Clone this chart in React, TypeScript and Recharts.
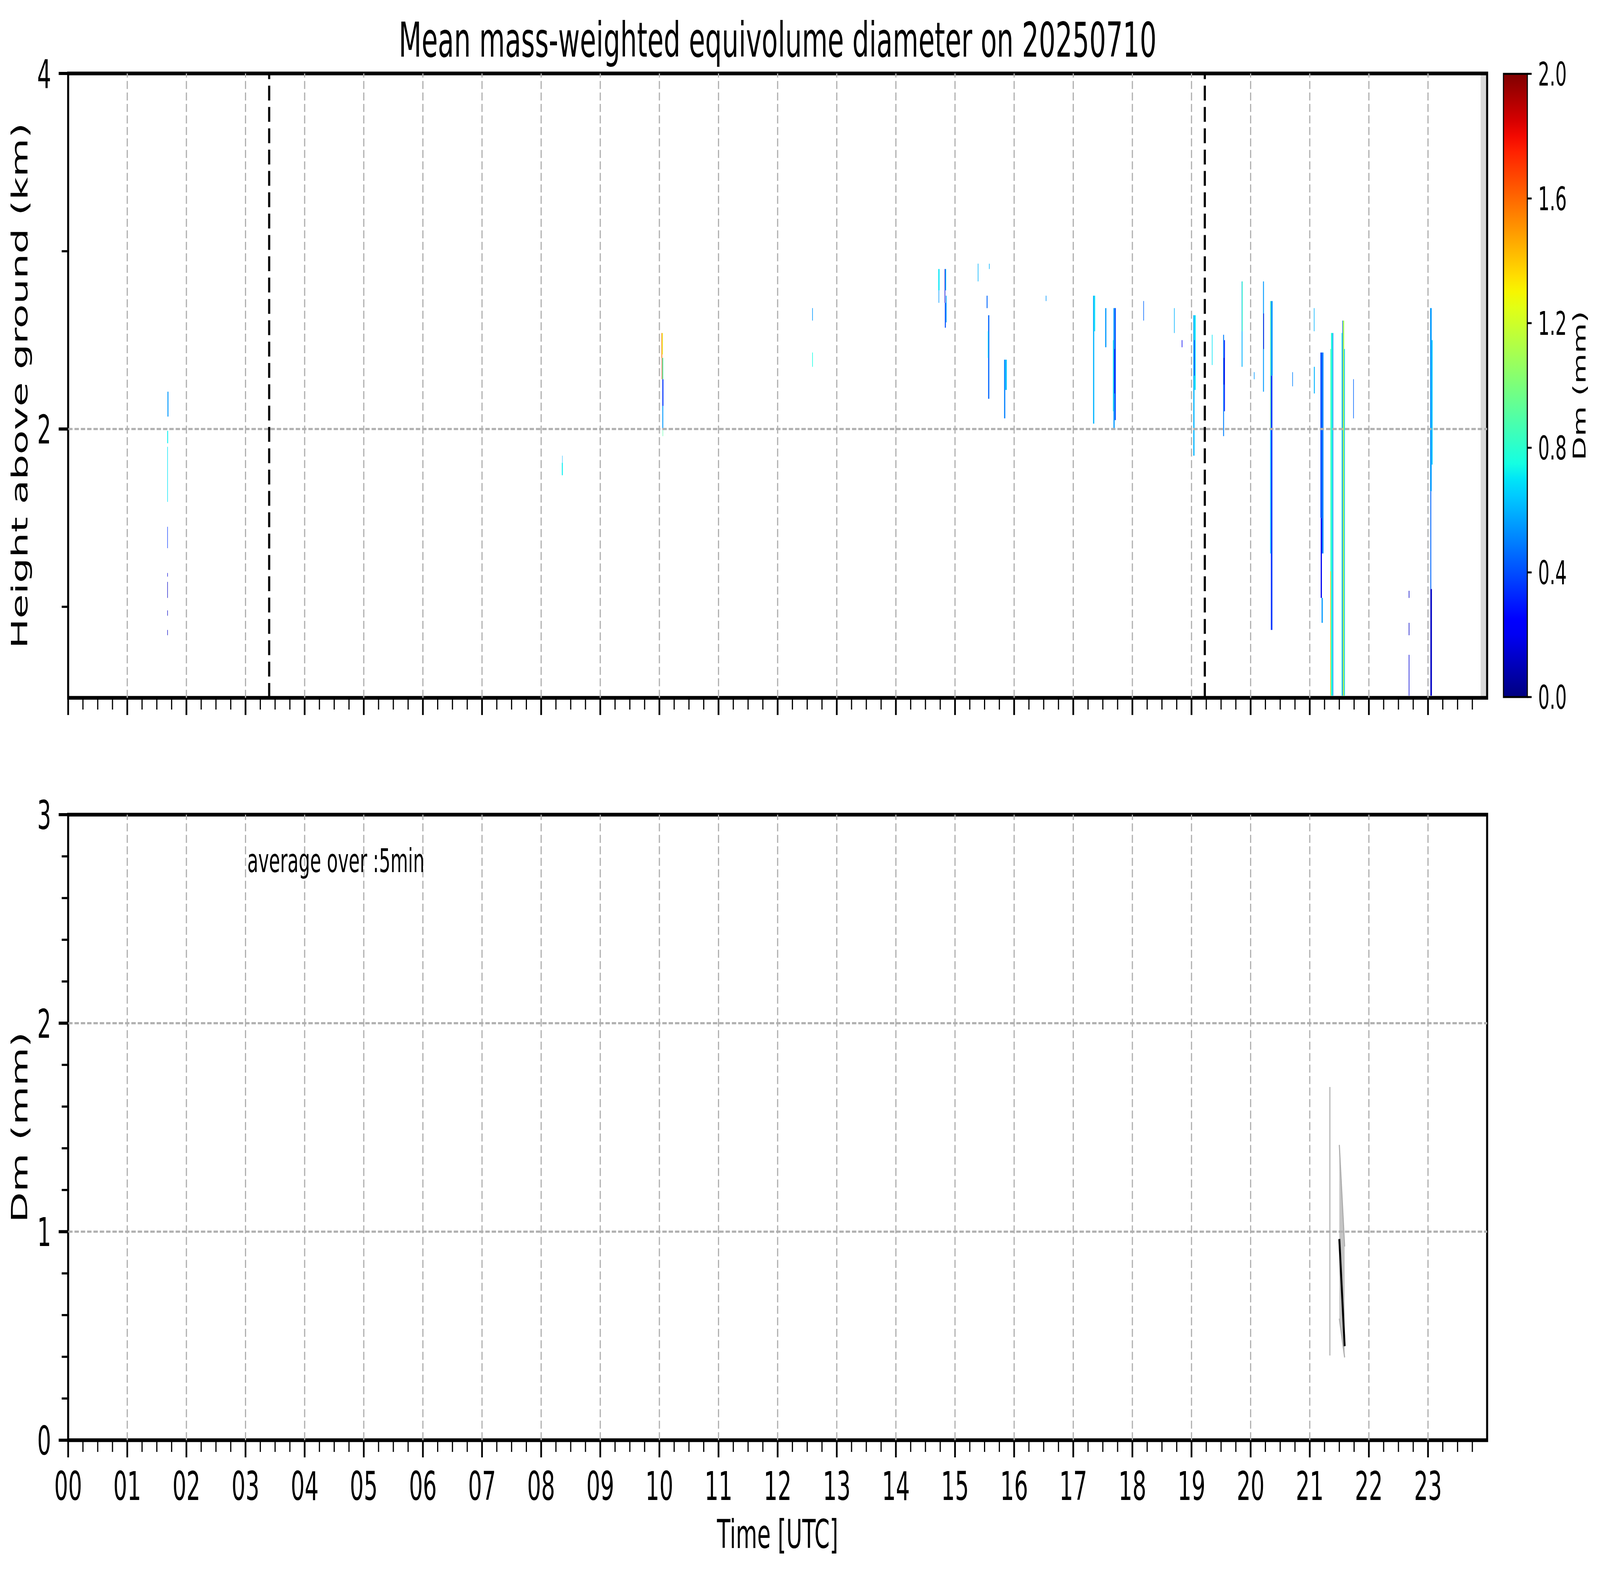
import React, { useLayoutEffect, useState } from 'react';
import { ComposedChart, XAxis, YAxis, ReferenceArea, ReferenceLine, Line, Area } from 'recharts';

const FONT = 'DejaVu Sans';
const FIG_W = 7442;
const FIG_H = 4031;

// ---------- axis ticks / labels ----------
const hourLabels = ['00','01','02','03','04','05','06','07','08','09','10','11','12','13','14','15','16','17','18','19','20','21','22','23'];
const hourGrid = [1,2,3,4,5,6,7,8,9,10,11,12,13,14,15,16,17,18,19,20,21,22,23];
const xTicks = Array.from({ length: 96 }, (_, i) => i / 4);
const topYTicks = [1, 2, 3, 4];
const topYMajor = [2, 4];
const topYGrid = [2];
const botYTicks = [0, 0.2, 0.4, 0.6, 0.8, 1, 1.2, 1.4, 1.6, 1.8, 2, 2.2, 2.4, 2.6, 2.8, 3];
const botYMajor = [0, 1, 2, 3];
const botYGrid = [1, 2];
const cbTicks = [0, 0.4, 0.8, 1.2, 1.6, 2.0];
const cbRange = [0, 2];

// ---------- data ----------
const sunLines = [3.40, 19.225];
const noDataStrip = [23.89, 24];
const heightRange = [0.488, 4];

// radar cells: [t0 (h UTC), t1 (h UTC), bottom height (km), top height (km), Dm (mm)]
const dmCells: [number, number, number, number, number][] = [
  [1.680, 1.696, 2.07, 2.21, 0.55],
  [1.676, 1.690, 1.92, 1.99, 0.72],
  [1.677, 1.686, 1.59, 1.90, 0.70],
  [1.677, 1.685, 1.33, 1.45, 0.35],
  [1.677, 1.685, 1.17, 1.19, 0.15],
  [1.677, 1.685, 1.05, 1.14, 0.12],
  [1.677, 1.685, 0.95, 0.98, 0.12],
  [1.677, 1.685, 0.84, 0.87, 0.12],
  [8.350, 8.366, 1.74, 1.81, 0.72],
  [8.356, 8.362, 1.81, 1.85, 0.60],
  [10.035, 10.048, 2.40, 2.54, 1.55],
  [10.048, 10.058, 2.42, 2.54, 1.25],
  [10.040, 10.050, 2.28, 2.40, 1.75],
  [10.048, 10.065, 2.28, 2.40, 0.90],
  [10.050, 10.068, 2.13, 2.28, 0.35],
  [10.050, 10.065, 2.00, 2.13, 0.55],
  [10.055, 10.062, 1.96, 2.00, 0.90],
  [12.585, 12.595, 2.61, 2.68, 0.55],
  [12.585, 12.595, 2.35, 2.43, 0.75],
  [14.718, 14.738, 2.78, 2.90, 0.70],
  [14.722, 14.732, 2.71, 2.78, 0.55],
  [14.825, 14.835, 2.71, 2.90, 0.15],
  [14.835, 14.850, 2.78, 2.90, 0.60],
  [14.828, 14.845, 2.57, 2.71, 0.40],
  [14.845, 14.858, 2.60, 2.75, 0.55],
  [15.385, 15.395, 2.83, 2.93, 0.60],
  [15.575, 15.585, 2.90, 2.93, 0.60],
  [15.535, 15.550, 2.68, 2.75, 0.45],
  [15.560, 15.580, 2.17, 2.64, 0.45],
  [15.555, 15.565, 2.40, 2.55, 0.70],
  [15.830, 15.850, 2.06, 2.39, 0.50],
  [15.850, 15.875, 2.22, 2.39, 0.62],
  [16.535, 16.545, 2.72, 2.75, 0.55],
  [17.335, 17.355, 2.03, 2.75, 0.60],
  [17.355, 17.370, 2.55, 2.75, 0.70],
  [17.540, 17.560, 2.46, 2.68, 0.55],
  [17.670, 17.680, 2.10, 2.50, 0.75],
  [17.680, 17.700, 2.00, 2.68, 0.55],
  [17.700, 17.720, 2.05, 2.68, 0.40],
  [17.695, 17.705, 2.20, 2.45, 0.20],
  [18.185, 18.195, 2.61, 2.72, 0.45],
  [18.705, 18.715, 2.54, 2.68, 0.60],
  [18.835, 18.845, 2.46, 2.50, 0.20],
  [19.030, 19.050, 1.85, 2.64, 0.60],
  [19.050, 19.070, 2.22, 2.64, 0.70],
  [19.045, 19.055, 2.30, 2.50, 0.30],
  [19.345, 19.355, 2.36, 2.53, 0.70],
  [19.535, 19.550, 1.96, 2.53, 0.50],
  [19.550, 19.565, 2.10, 2.50, 0.30],
  [19.545, 19.555, 2.25, 2.40, 0.15],
  [19.848, 19.862, 2.35, 2.83, 0.60],
  [19.855, 19.865, 2.55, 2.83, 0.85],
  [20.055, 20.065, 2.28, 2.32, 0.55],
  [20.210, 20.225, 2.21, 2.83, 0.55],
  [20.215, 20.225, 2.45, 2.65, 0.15],
  [20.330, 20.342, 2.00, 2.72, 0.90],
  [20.342, 20.372, 2.30, 2.72, 0.55],
  [20.342, 20.368, 0.87, 2.30, 0.35],
  [20.330, 20.342, 1.30, 2.00, 0.65],
  [20.705, 20.715, 2.24, 2.32, 0.50],
  [21.070, 21.085, 2.20, 2.35, 0.60],
  [21.070, 21.080, 2.55, 2.68, 0.60],
  [21.180, 21.205, 1.50, 2.43, 0.40],
  [21.205, 21.232, 1.30, 2.43, 0.50],
  [21.185, 21.205, 1.05, 1.50, 0.20],
  [21.200, 21.220, 0.91, 1.05, 0.55],
  [21.348, 21.360, 1.20, 2.45, 0.90],
  [21.348, 21.360, 0.50, 1.20, 1.45],
  [21.360, 21.388, 0.50, 2.54, 0.76],
  [21.388, 21.398, 0.50, 2.54, 0.50],
  [21.538, 21.550, 0.50, 2.54, 0.75],
  [21.550, 21.560, 0.50, 2.61, 0.40],
  [21.560, 21.582, 0.50, 2.61, 1.10],
  [21.582, 21.594, 0.50, 2.45, 0.65],
  [21.735, 21.745, 2.06, 2.28, 0.45],
  [22.675, 22.685, 1.05, 1.09, 0.12],
  [22.675, 22.685, 0.84, 0.91, 0.12],
  [22.675, 22.685, 0.50, 0.73, 0.15],
  [23.036, 23.062, 1.65, 2.68, 0.55],
  [23.062, 23.078, 1.80, 2.50, 0.65],
  [23.040, 23.055, 1.10, 1.65, 0.45],
  [23.040, 23.066, 0.50, 1.10, 0.12],
];

// surface Dm, 5-min average
const meanTime = [21.50, 21.59];
const meanDm = [0.965, 0.451];
const bandTime = [21.50, 21.59];
const bandLow = [0.583, 0.397];
const bandHigh = [1.416, 0.929];
const spikeTime = [21.34, 21.34];
const spikeDm = [0.406, 1.694];

const meanData = meanTime.map((t, i) => ({ t, v: meanDm[i] }));
const bandData = bandTime.map((t, i) => ({ t, range: [bandLow[i], bandHigh[i]] }));
const spikeData = spikeTime.map((t, i) => ({ t, v: spikeDm[i] }));
const cbData = [{ x: 0, span: cbRange }, { x: 1, span: cbRange }];

// ---------- jet colormap (matplotlib) ----------
function interp(pts: number[][], x: number) {
  for (let i = 1; i < pts.length; i++) {
    if (x <= pts[i][0]) {
      const [x0, y0] = pts[i - 1];
      const [x1, y1] = pts[i];
      return y0 + ((y1 - y0) * (x - x0)) / (x1 - x0 || 1);
    }
  }
  return pts[pts.length - 1][1];
}
const JR = [[0, 0], [0.35, 0], [0.66, 1], [0.89, 1], [1, 0.5]];
const JG = [[0, 0], [0.125, 0], [0.375, 1], [0.64, 1], [0.91, 0], [1, 0]];
const JB = [[0, 0.5], [0.11, 1], [0.34, 1], [0.65, 0], [1, 0]];
function jet(v: number, vmin = 0, vmax = 2) {
  const x = Math.max(0, Math.min(1, (v - vmin) / (vmax - vmin)));
  const c = (a: number) => Math.round(Math.max(0, Math.min(1, a)) * 255);
  return `rgb(${c(interp(JR, x))},${c(interp(JG, x))},${c(interp(JB, x))})`;
}

// ---------- styles ----------
const GRID = { stroke: '#b0b0b0', strokeWidth: 5.5, strokeDasharray: '20.5 8.9' };
const SPINE = 9.5;

function XTick(props: any) {
  const { x, y, payload, withLabels } = props;
  const v = payload.value as number;
  const hour = Math.round(v);
  const major = Math.abs(v - hour) < 1e-6;
  const len = major ? 44 : 30;
  return (
    <g>
      <line x1={x} x2={x} y1={y} y2={y + len} stroke="#000" strokeWidth={major ? 8 : 5.5} />
      {withLabels && major && hour < 24 ? (
        <text x={x} y={y + 153} textAnchor="middle" fontFamily={FONT} fontSize={102} fill="#000">
          {hourLabels[hour]}
        </text>
      ) : null}
    </g>
  );
}

function YTick(props: any) {
  const { x, y, payload, majors } = props;
  const v = payload.value as number;
  const major = majors.some((m: number) => Math.abs(m - v) < 1e-6);
  const len = major ? 44 : 30;
  return (
    <g>
      <line x1={x} x2={x - len} y1={y} y2={y} stroke="#000" strokeWidth={major ? 8 : 5.5} />
      {major ? (
        <text x={x - 79} y={y + 37} textAnchor="end" fontFamily={FONT} fontSize={102} fill="#000">
          {String(Math.round(v))}
        </text>
      ) : null}
    </g>
  );
}

function CbTick(props: any) {
  const { x, y, payload } = props;
  const v = payload.value as number;
  return (
    <g>
      <line x1={x} x2={x + 20} y1={y} y2={y} stroke="#000" strokeWidth={5} />
      <text x={x + 50} y={y + 30} textAnchor="start" fontFamily={FONT} fontSize={84} fill="#000">
        {v.toFixed(1)}
      </text>
    </g>
  );
}

const gradStops = Array.from({ length: 41 }, (_, i) => i / 40);

function fitScale() {
  if (typeof window === 'undefined') return { sx: 1, sy: 1 };
  const sx = Math.min(1, window.innerWidth / FIG_W);
  const sy = Math.min(1, window.innerHeight / FIG_H);
  return { sx, sy };
}

export default function App() {
  const [scale, setScale] = useState(fitScale);
  useLayoutEffect(() => {
    const on = () => setScale(fitScale());
    on();
    window.addEventListener('resize', on);
    return () => window.removeEventListener('resize', on);
  }, []);
  return (
    <div style={{ position: 'absolute', left: 0, top: 0, width: FIG_W, height: FIG_H, background: '#fff', overflow: 'hidden',
      transform: `scale(${scale.sx}, ${scale.sy})`, transformOrigin: '0 0' }}>
      {/* ---------- top panel: height-time Dm ---------- */}
      <div style={{ position: 'absolute', left: 0, top: 0 }}>
        <ComposedChart width={6960} height={1900} margin={{ top: 188, right: 43, bottom: 113, left: 0 }}>
          <XAxis xAxisId="x" type="number" dataKey="t" domain={[0, 24]} allowDataOverflow ticks={xTicks} interval={0}
            height={1} tickSize={0} tickMargin={0} tickLine={false} axisLine={false}
            tick={(p: any) => <XTick {...p} withLabels={false} />} />
          <YAxis yAxisId="y" type="number" domain={heightRange} allowDataOverflow ticks={topYTicks} interval={0}
            width={317} tickSize={0} tickMargin={0} tickLine={false} axisLine={false}
            tick={(p: any) => <YTick {...p} majors={topYMajor} />} />
          {dmCells.map((c, i) => (
            <ReferenceArea key={'c' + i} xAxisId="x" yAxisId="y" x1={c[0]} x2={c[1]} y1={c[2]} y2={c[3]}
              fill={jet(c[4])} fillOpacity={1} stroke="none" ifOverflow="visible" />
          ))}
          <ReferenceArea xAxisId="x" yAxisId="y" x1={noDataStrip[0]} x2={noDataStrip[1]} y1={heightRange[0]} y2={heightRange[1]}
            fill="#d9d9d9" fillOpacity={1} stroke="none" ifOverflow="visible" />
          {hourGrid.map((h) => (
            <ReferenceLine key={'gx' + h} xAxisId="x" yAxisId="y" x={h} {...GRID} ifOverflow="visible" />
          ))}
          {topYGrid.map((h) => (
            <ReferenceLine key={'gy' + h} xAxisId="x" yAxisId="y" y={h} {...GRID} ifOverflow="visible" />
          ))}
          {sunLines.map((t) => (
            <ReferenceLine key={'s' + t} xAxisId="x" yAxisId="y" x={t} stroke="#000" strokeWidth={10} strokeDasharray="38 16.6" ifOverflow="visible" />
          ))}
          <ReferenceArea xAxisId="x" yAxisId="y" x1={0} x2={24} y1={heightRange[0]} y2={heightRange[1]}
            fill="none" stroke="#000" strokeWidth={SPINE} ifOverflow="visible" />
        </ComposedChart>
      </div>

      {/* ---------- colorbar ---------- */}
      <div style={{ position: 'absolute', left: 6900, top: 0 }}>
        <ComposedChart width={542} height={1900} data={cbData} margin={{ top: 189, right: 0, bottom: 115, left: 93 }}>
          <defs>
            <linearGradient id="jetGrad" x1="0" y1="1" x2="0" y2="0">
              {gradStops.map((s) => (
                <stop key={s} offset={`${s * 100}%`} stopColor={jet(s * 2)} />
              ))}
            </linearGradient>
          </defs>
          <XAxis xAxisId="c" type="number" dataKey="x" domain={[0, 1]} allowDataOverflow ticks={[0, 1]} interval={0} height={1}
            tickSize={0} tickMargin={0} tick={() => <g />} tickLine={false} axisLine={false} />
          <YAxis yAxisId="c" orientation="right" type="number" domain={cbRange} allowDataOverflow ticks={cbTicks} interval={0}
            width={338} tickSize={0} tickMargin={0} tickLine={false} axisLine={false} tick={(p: any) => <CbTick {...p} />} />
          <Area xAxisId="c" yAxisId="c" dataKey="span" type="linear" fill="url(#jetGrad)" fillOpacity={1}
            stroke="none" isAnimationActive={false} dot={false} activeDot={false} />
          <ReferenceArea xAxisId="c" yAxisId="c" x1={0} x2={1} y1={cbRange[0]} y2={cbRange[1]} fill="none"
            stroke="#000" strokeWidth={5} ifOverflow="visible" />
        </ComposedChart>
      </div>

      {/* ---------- bottom panel: surface Dm ---------- */}
      <div style={{ position: 'absolute', left: 0, top: 1900 }}>
        <ComposedChart width={6960} height={2131} margin={{ top: 185, right: 43, bottom: 344, left: 0 }}>
          <XAxis xAxisId="x" type="number" dataKey="t" domain={[0, 24]} allowDataOverflow ticks={xTicks} interval={0}
            height={1} tickSize={0} tickMargin={0} tickLine={false} axisLine={false}
            tick={(p: any) => <XTick {...p} withLabels={true} />} />
          <YAxis yAxisId="y" type="number" domain={[0, 3]} allowDataOverflow ticks={botYTicks} interval={0}
            width={317} tickSize={0} tickMargin={0} tickLine={false} axisLine={false}
            tick={(p: any) => <YTick {...p} majors={botYMajor} />} />
          <Area xAxisId="x" yAxisId="y" data={bandData} dataKey="range" type="linear" fill="#c4c4c4" fillOpacity={1}
            stroke="#acacac" strokeWidth={5} isAnimationActive={false} dot={false} activeDot={false} />
          <Line xAxisId="x" yAxisId="y" data={spikeData} dataKey="v" type="linear" stroke="#c0c0c0" strokeWidth={6.5}
            dot={false} activeDot={false} isAnimationActive={false} />
          {hourGrid.map((h) => (
            <ReferenceLine key={'bgx' + h} xAxisId="x" yAxisId="y" x={h} {...GRID} ifOverflow="visible" />
          ))}
          {botYGrid.map((v) => (
            <ReferenceLine key={'bgy' + v} xAxisId="x" yAxisId="y" y={v} {...GRID} ifOverflow="visible" />
          ))}
          <Line xAxisId="x" yAxisId="y" data={meanData} dataKey="v" type="linear" stroke="#000" strokeWidth={9}
            dot={false} activeDot={false} isAnimationActive={false} />
          <ReferenceArea xAxisId="x" yAxisId="y" x1={0} x2={24} y1={0} y2={3}
            fill="none" stroke="#000" strokeWidth={SPINE} ifOverflow="visible" />
        </ComposedChart>
      </div>

      {/* ---------- text ---------- */}
      <svg width={FIG_W} height={FIG_H} style={{ position: 'absolute', left: 0, top: 0, pointerEvents: 'none' }}>
        <text x={3617} y={145} textAnchor="middle" fontFamily={FONT} fontSize={123} fill="#000">
          Mean mass-weighted equivolume diameter on 20250710
        </text>
        <text x={127} y={987} transform="rotate(-90 127 987)" textAnchor="middle" fontFamily={FONT} fontSize={102} fill="#000">
          Height above ground (km)
        </text>
        <text x={127} y={2885} transform="rotate(-90 127 2885)" textAnchor="middle" fontFamily={FONT} fontSize={102} fill="#000">
          Dm (mm)
        </text>
        <text x={3617} y={3962} textAnchor="middle" fontFamily={FONT} fontSize={102} fill="#000">
          Time [UTC]
        </text>
        <text x={1150} y={2232} textAnchor="start" fontFamily={FONT} fontSize={84} fill="#000">
          average over :5min
        </text>
        <text x={7375} y={987} transform="rotate(-90 7375 987)" textAnchor="middle" fontFamily={FONT} fontSize={80} fill="#000">
          Dm (mm)
        </text>
      </svg>
    </div>
  );
}
